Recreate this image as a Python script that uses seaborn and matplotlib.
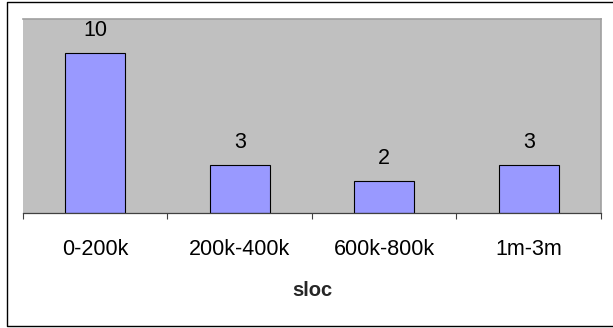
import matplotlib
matplotlib.use("Agg")
import matplotlib.pyplot as plt
from matplotlib.lines import Line2D
from matplotlib.ticker import FixedLocator
import seaborn as sns
import pandas as pd

categories = ["0-200k", "200k-400k", "600k-800k", "1m-3m"]
counts = [10, 3, 2, 3]
x_title = "sloc"

sns.set_style("white")
plt.rcParams["font.family"] = ["Liberation Sans", "DejaVu Sans"]

df = pd.DataFrame({"sloc": categories, "count": counts})

fig = plt.figure(figsize=(6.13, 3.28), dpi=100)
fig.patch.set_facecolor("white")
ax = fig.add_axes([23 / 613, 1 - 213 / 328, 578 / 613, 194 / 328])
ax.set_facecolor("#C0C0C0")

sns.barplot(data=df, x="sloc", y="count", color="#9999FF", saturation=1,
            width=0.415, edgecolor="black", linewidth=0.8, ax=ax)

ax.set_xlim(-0.5, len(categories) - 0.5)
ax.set_ylim(0, 12.1)
ax.set_yticks([])
ax.set_ylabel("")

for c in ax.containers:
    ax.bar_label(c, labels=[str(v) for v in counts], padding=8.5,
                 fontsize=15.5, color="black")

# category boundary ticks below the axis line
ax.xaxis.set_minor_locator(FixedLocator([i - 0.5 for i in range(len(categories) + 1)]))
ax.tick_params(axis="x", which="major", length=0, pad=19, labelsize=15.5,
               labelcolor="black")
ax.tick_params(axis="x", which="minor", length=4, width=0.8, color="#404040",
               bottom=True)
ax.set_xlabel(x_title, fontsize=14.5, fontweight="bold", labelpad=15)

for side in ("top", "right"):
    ax.spines[side].set_color("#A0A0A0")
    ax.spines[side].set_linewidth(1.2)
ax.spines["left"].set_visible(False)
ax.spines["bottom"].set_color("#404040")
ax.spines["bottom"].set_linewidth(0.9)

# chart frame: left, top and bottom edges
x0, y0, y1 = 6.5 / 613, 1.5 / 328, 325.5 / 328
fig.add_artist(Line2D([1.0, x0, x0, 1.0], [1 - y0, 1 - y0, 1 - y1, 1 - y1],
                      transform=fig.transFigure, color="black", linewidth=1.0))

fig.savefig("out.png", dpi=100)
